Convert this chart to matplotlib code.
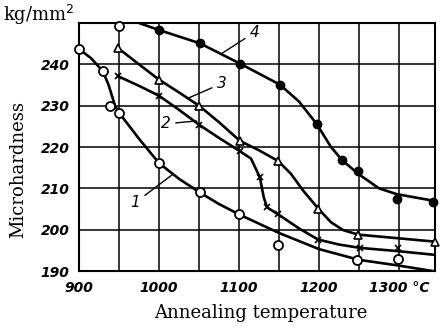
import matplotlib
matplotlib.use("Agg")
import matplotlib.pyplot as plt

# ---- data ----
x_ticks = [900, 1000, 1100, 1200, 1300]
x_tick_labels = ["900", "1000", "1100", "1200", "1300 °C"]
y_ticks = [190, 200, 210, 220, 230, 240]
y_tick_labels = ["190", "200", "210", "220", "230", "240"]
x_grid = [950, 1000, 1050, 1100, 1150, 1200, 1250, 1300]
y_grid = [200, 210, 220, 230, 240]

# curve 1 (open circles)
c1_mx = [900, 930, 939, 950, 1000, 1051, 1100, 1149, 1247, 1299]
c1_my = [243.7, 238.3, 230.0, 228.3, 216.1, 209.0, 203.7, 196.3, 192.7, 193.0]
c1_lx = [900, 915, 930, 937, 945, 950, 975, 1000, 1025, 1051, 1075, 1100, 1150, 1200, 1250, 1300, 1345]
c1_ly = [243.7, 241.5, 238.3, 235.0, 230.0, 228.3, 222.0, 216.1, 212.3, 209.0, 206.2, 203.7, 199.2, 195.3, 192.7, 191.3, 189.9]

# curve 2 (crosses)
c2_mx = [949, 1000, 1050, 1101, 1126, 1135, 1149, 1199, 1251, 1299]
c2_my = [237.1, 232.4, 225.4, 219.0, 212.7, 205.4, 203.7, 197.6, 195.6, 195.6]
c2_lx = [949, 975, 1000, 1025, 1050, 1075, 1101, 1115, 1126, 1131, 1135, 1149, 1175, 1199, 1225, 1251, 1299, 1345]
c2_ly = [237.1, 234.8, 232.4, 229.0, 225.4, 222.2, 219.0, 217.2, 212.7, 207.8, 205.4, 203.7, 200.3, 197.6, 196.4, 195.6, 194.8, 193.9]

# curve 3 (triangles)
c3_mx = [949, 1000, 1050, 1101, 1149, 1199, 1249, 1345]
c3_my = [243.9, 236.3, 230.0, 221.5, 216.6, 205.1, 198.8, 197.1]
c3_lx = [949, 975, 1000, 1025, 1050, 1075, 1101, 1125, 1149, 1165, 1180, 1199, 1215, 1230, 1249, 1300, 1345]
c3_ly = [243.9, 240.0, 236.3, 233.2, 230.0, 226.0, 221.5, 219.2, 216.6, 213.5, 209.5, 205.1, 201.8, 199.9, 198.8, 197.9, 197.1]

# curve 4 (filled circles)
c4_mx = [1000, 1051, 1101, 1151, 1197, 1229, 1249, 1297, 1343]
c4_my = [248.3, 245.1, 240.2, 235.1, 225.6, 216.8, 214.1, 207.3, 206.8]
c4_lx = [972, 1000, 1051, 1101, 1151, 1175, 1197, 1215, 1229, 1249, 1275, 1297, 1343]
c4_ly = [250.2, 248.3, 245.1, 240.2, 235.1, 231.0, 225.6, 220.0, 216.8, 213.5, 210.0, 208.6, 207.0]
c4_open_x = [950]
c4_open_y = [249.3]

# ---- figure ----
fig = plt.figure(figsize=(4.4, 3.27), dpi=100)
ax = fig.add_axes([79/440, 56/327, 356/440, 248/327])
ax.set_xlim(900, 1345)
ax.set_ylim(190, 250)

for gx in x_grid:
    ax.axvline(gx, color="black", lw=1.1, zorder=1)
for gy in y_grid:
    ax.axhline(gy, color="black", lw=1.1, zorder=1)
for s in ax.spines.values():
    s.set_linewidth(1.5)

lw = 1.9
ax.plot(c1_lx, c1_ly, color="black", lw=lw, zorder=2)
ax.plot(c2_lx, c2_ly, color="black", lw=lw, zorder=2)
ax.plot(c3_lx, c3_ly, color="black", lw=lw, zorder=2)
ax.plot(c4_lx, c4_ly, color="black", lw=lw, zorder=2, clip_on=True)

ax.plot(c1_mx, c1_my, "o", ms=6.5, mfc="white", mec="black", mew=1.3, zorder=3, clip_on=False)
ax.plot(c2_mx, c2_my, "x", ms=4.5, mec="black", mew=1.2, zorder=3)
ax.plot(c3_mx, c3_my, "^", ms=6, mfc="white", mec="black", mew=1.2, zorder=3, clip_on=False)
ax.plot(c4_mx, c4_my, "o", ms=6, mfc="black", mec="black", zorder=3, clip_on=False)
ax.plot(c4_open_x, c4_open_y, "o", ms=6.5, mfc="white", mec="black", mew=1.3, zorder=3, clip_on=False)

tick_font = dict(family="DejaVu Sans", style="italic", weight="bold", size=10)
ax.set_xticks(x_ticks)
ax.set_xticklabels(x_tick_labels, **tick_font)
ax.set_yticks(y_ticks)
ax.set_yticklabels(y_tick_labels, **tick_font)
ax.tick_params(length=0, pad=7)
xl = ax.get_xticklabels()
xl[-1].set_x(1307)

serif = dict(family="DejaVu Serif", size=13)
fig.text(261/440, 1 - 313/327, "Annealing temperature", ha="center", va="center", **serif)
fig.text(18/440, 1 - 170/327, "Microhardness", ha="center", va="center", rotation=90, **serif)
fig.text(3/440, 1 - 21/327, "kg/mm$^2$", ha="left", va="baseline", **serif)

# curve labels with leaders
lab_font = dict(family="DejaVu Sans", style="italic", size=11)
arrow = dict(arrowstyle="-", lw=1.0, color="black", shrinkA=2, shrinkB=0)
ax.annotate("1", xy=(1018, 213.5), xytext=(970, 206.5), ha="center", va="center", arrowprops=arrow, **lab_font)
ax.annotate("2", xy=(1047, 226.3), xytext=(1008, 225.6), ha="center", va="center", arrowprops=arrow, **lab_font)
ax.annotate("3", xy=(1035, 231.7), xytext=(1079, 235.4), ha="center", va="center", arrowprops=arrow, **lab_font)
ax.annotate("4", xy=(1079, 242.7), xytext=(1120, 247.8), ha="center", va="center", arrowprops=arrow, **lab_font)

fig.savefig("out.png", dpi=100)
